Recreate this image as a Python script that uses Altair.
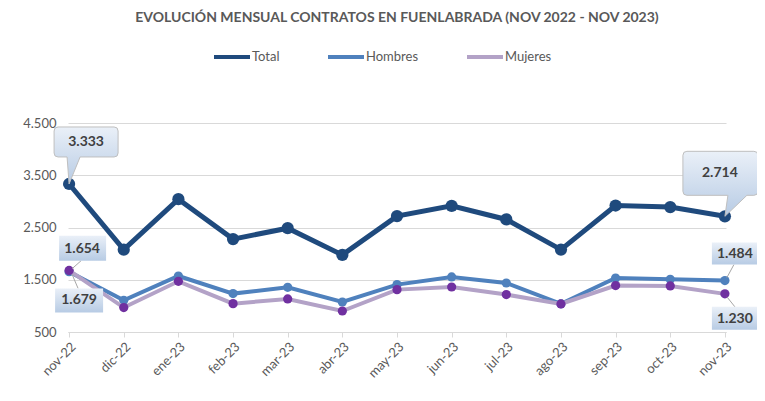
import altair as alt
import pandas as pd

FONT = "Lato"

meses = ["nov-22", "dic-22", "ene-23", "feb-23", "mar-23", "abr-23", "may-23",
         "jun-23", "jul-23", "ago-23", "sep-23", "oct-23", "nov-23"]
total = [3333, 2075, 3042, 2278, 2487, 1976, 2718, 2914, 2654, 2077, 2921, 2891, 2714]
hombres = [1654, 1107, 1572, 1235, 1355, 1074, 1407, 1553, 1438, 1040, 1533, 1509, 1484]
mujeres = [1679, 968, 1470, 1043, 1132, 902, 1311, 1361, 1216, 1037, 1388, 1382, 1230]

series = ["Total", "Hombres", "Mujeres"]
color_linea = ["#1F4A7D", "#4F81BD", "#B3A2C7"]
color_marca = ["#1F4A7D", "#4F81BD", "#7030A0"]
y_ticks = [500, 1500, 2500, 3500, 4500]

rows = []
for s, vals in zip(series, [total, hombres, mujeres]):
    for m, v in zip(meses, vals):
        rows.append({"mes": m, "valor": v, "serie": s, "serie_m": s,
                     "etiqueta": f"{v:,}".replace(",", ".")})
df = pd.DataFrame(rows)

x = alt.X("mes:N", sort=meses, title=None,
          scale=alt.Scale(type="point", padding=0.02),
          axis=alt.Axis(labelAngle=-45, labelFont=FONT, labelFontSize=13,
                        labelColor="#595959", domainColor="#D9D9D9",
                        tickColor="#D9D9D9", tickSize=5, labelPadding=3, grid=False))
y = alt.Y("valor:Q", title=None,
          scale=alt.Scale(domain=[500, 4500], nice=False, zero=False),
          axis=alt.Axis(values=y_ticks, labelExpr="replace(format(datum.value, ','), ',', '.')",
                        labelFont=FONT, labelFontSize=13, labelColor="#595959",
                        domain=False, ticks=False, labelPadding=12,
                        gridColor="#D9D9D9", gridWidth=1))

LEG_X = 144
LEG_Y = -86
legend_line = alt.Legend(orient="none", direction="horizontal", legendX=LEG_X, legendY=LEG_Y,
                         title=None, symbolType="M-1,0L1,0", symbolSize=1296,
                         symbolStrokeWidth=4, symbolFillColor="transparent",
                         labelFont=FONT, labelFontSize=13, labelColor="#595959",
                         labelOffset=0, columnPadding=40)
legend_mark = alt.Legend(orient="none", direction="horizontal", legendX=LEG_X, legendY=LEG_Y,
                         title=None,
                         symbolType="M-0.3,0A0.3,0.3,0,1,0,0.3,0A0.3,0.3,0,1,0,-0.3,0Z",
                         symbolSize=1296, symbolStrokeWidth=0,
                         labelFont=FONT, labelFontSize=13, labelColor="transparent",
                         labelOffset=0, columnPadding=40)

stroke_enc = alt.Stroke("serie:N", scale=alt.Scale(domain=series, range=color_linea),
                        legend=legend_line)
fill_enc = alt.Fill("serie_m:N", scale=alt.Scale(domain=series, range=color_marca),
                    legend=legend_mark)

base = alt.Chart(df)
layers = []
for s in series:
    lw = 5 if s == "Total" else 4
    ms = 150 if s == "Total" else 85
    layers.append(base.mark_line(strokeWidth=lw).encode(x=x, y=y, stroke=stroke_enc)
                  .transform_filter(alt.datum.serie == s))
    layers.append(base.mark_point(filled=True, size=ms, opacity=1, strokeWidth=0)
                  .encode(x=x, y=y, fill=fill_enc)
                  .transform_filter(alt.datum.serie == s))

grad = alt.LinearGradient(gradient="linear",
                          stops=[alt.GradientStop(color="#EAF0F8", offset=0),
                                 alt.GradientStop(color="#B7CBE4", offset=1)],
                          x1=0, x2=0, y1=0, y2=1)

# annotation specs: (serie, mes, box path, leader path or None, text dx, dy, bordered)
anots = [
    ("Total", "nov-22",
     "M0,0L11,-27L45,-27Q49,-27,49,-31L49,-53Q49,-57,45,-57L-11,-57Q-15,-57,-15,-53L-15,-31Q-15,-27,-11,-27L-2,-27Z",
     None, 17, -42, True),
    ("Total", "nov-23",
     "M0,0L3,-21L-38,-21Q-42,-21,-42,-25L-42,-61Q-42,-65,-38,-65L29,-65Q33,-65,33,-61L33,-25Q33,-21,29,-21L22,-21Z",
     None, -5, -43, True),
    ("Hombres", "nov-22", "M-10,-36L37,-36L37,-11L-10,-11Z", "M12,-11L3,-3", 13, -23, False),
    ("Mujeres", "nov-22", "M-14,18L34,18L34,42L-14,42Z", "M3,4L9,18", 10, 30, False),
    ("Hombres", "nov-23", "M-13,-38L33,-38L33,-16L-13,-16Z", "M9,-16L2,-3", 10, -27, False),
    ("Mujeres", "nov-23", "M-13,13L33,13L33,36L-13,36Z", "M2,3L10,13", 10, 25, False),
]

for s, m, box, leader, dx, dy, bordered in anots:
    sel = base.transform_filter((alt.datum.serie == s) & (alt.datum.mes == m))
    if leader:
        layers.append(sel.mark_point(shape=leader, size=4, filled=False, stroke="#A6A6A6",
                                     strokeWidth=1, opacity=1).encode(x=x, y=y))
    if bordered:
        layers.append(sel.mark_point(shape=box, size=4, filled=True, fill=grad,
                                     stroke="#BFBFBF", strokeWidth=1, opacity=1).encode(x=x, y=y))
    else:
        layers.append(sel.mark_point(shape=box, size=4, filled=True, fill=grad,
                                     strokeWidth=0, opacity=1).encode(x=x, y=y))
    layers.append(sel.mark_text(dx=dx, dy=dy, font=FONT, fontSize=14, fontWeight="bold",
                                color="#404040", baseline="middle", align="center")
                  .encode(x=x, y=y, text="etiqueta:N"))

chart = alt.layer(*layers).properties(
    width=658, height=209,
    autosize=alt.AutoSizeParams(type="none"),
    padding={"left": 60, "top": 115, "right": 31, "bottom": 61},
    title=alt.TitleParams(text="EVOLUCIÓN MENSUAL CONTRATOS EN FUENLABRADA (NOV 2022 - NOV 2023)",
                          font=FONT, fontSize=14, fontWeight="bold", color="#595959",
                          anchor="middle", offset=12),
).configure_view(stroke=None)

chart.save("out.html", embed_options={"renderer": "svg", "actions": False})
